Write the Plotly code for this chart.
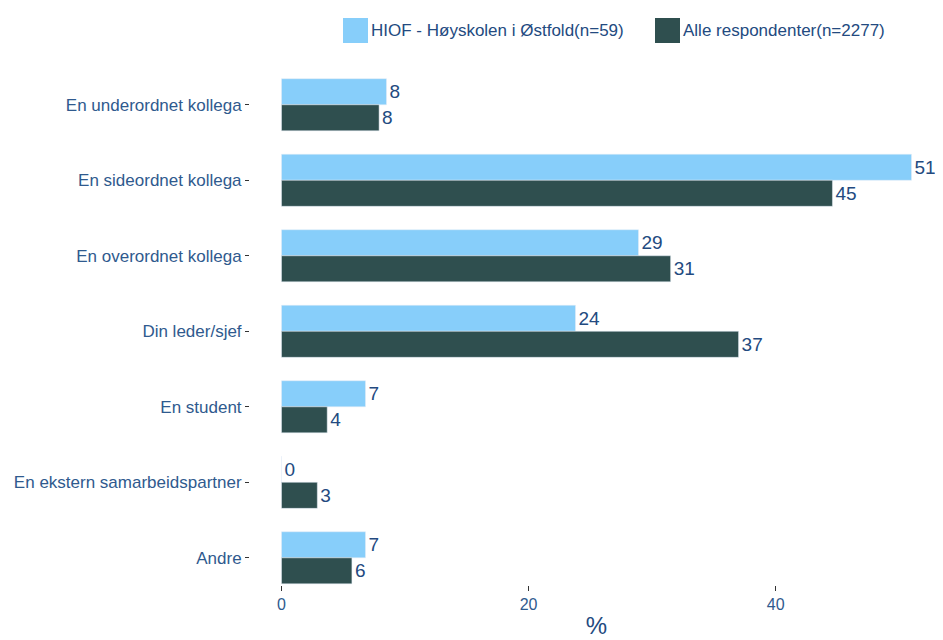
import plotly.graph_objects as go

categories = ["En underordnet kollega", "En sideordnet kollega", "En overordnet kollega",
              "Din leder/sjef", "En student", "En ekstern samarbeidspartner", "Andre"]
hiof = [8.5, 51.0, 28.9, 23.8, 6.8, 0, 6.8]
alle = [7.9, 44.6, 31.5, 37.0, 3.7, 2.9, 5.7]
hiof_labels = ["8", "51", "29", "24", "7", "0", "7"]
alle_labels = ["8", "45", "31", "37", "4", "3", "6"]
series_names = ["HIOF - Høyskolen i Østfold(n=59)", "Alle respondenter(n=2277)"]
series_colors = ["#87CEFA", "#2F4F4F"]

label_color = "#234A80"
tick_color = "#2F5A8E"

# page body has an 8px margin, so the figure is a bit smaller than the window
W, H = 935, 632
L, R, T, B = 242, 0, 59, 55
plot_w, plot_h = W - L - R, H - T - B


def px_x(x):
    return (x - L) / plot_w


def px_y(y):
    return (H - B - y) / plot_h


fig = go.Figure()
for name, vals, labels, col in zip(series_names, [hiof, alle], [hiof_labels, alle_labels], series_colors):
    fig.add_trace(go.Bar(
        y=categories, x=vals, orientation="h",
        name=name,
        marker_color=col,
        text=labels, textposition="outside", cliponaxis=False,
        textfont=dict(size=19, color=label_color),
        showlegend=False,
    ))

# legend drawn by hand to get the big square keys
legend_x = [335, 647]
for lx, name, col in zip(legend_x, series_names, series_colors):
    fig.add_shape(type="rect", xref="paper", yref="paper",
                  x0=px_x(lx), x1=px_x(lx + 25), y0=px_y(35), y1=px_y(10),
                  fillcolor=col, line_width=0)
    fig.add_annotation(xref="paper", yref="paper", x=px_x(lx + 26), y=px_y(22.5),
                       xanchor="left", yanchor="middle", showarrow=False, text=name,
                       font=dict(size=17, color=label_color))

fig.update_layout(
    barmode="group",
    bargap=0.31,
    bargroupgap=0,
    width=W, height=H,
    plot_bgcolor="white", paper_bgcolor="white",
    font=dict(family="Liberation Sans, Arial", color=tick_color),
    margin=dict(l=L, r=R, t=T, b=B, autoexpand=False),
    xaxis=dict(range=[-2.55, 53.55], tickvals=[0, 20, 40], showgrid=False, zeroline=False,
               showline=False, ticks="outside", ticklen=5, tickcolor="#333333",
               tickfont=dict(size=16, color=tick_color), automargin=False,
               title=dict(text="%", font=dict(size=24, color=label_color), standoff=4)),
    yaxis=dict(categoryorder="array", categoryarray=categories, range=[6.36, -0.5],
               showgrid=False, zeroline=False, showline=False, ticks="outside",
               ticklen=4, tickcolor="#333333", automargin=False,
               tickfont=dict(size=17, color=tick_color)),
)

fig.write_html("out.html")
